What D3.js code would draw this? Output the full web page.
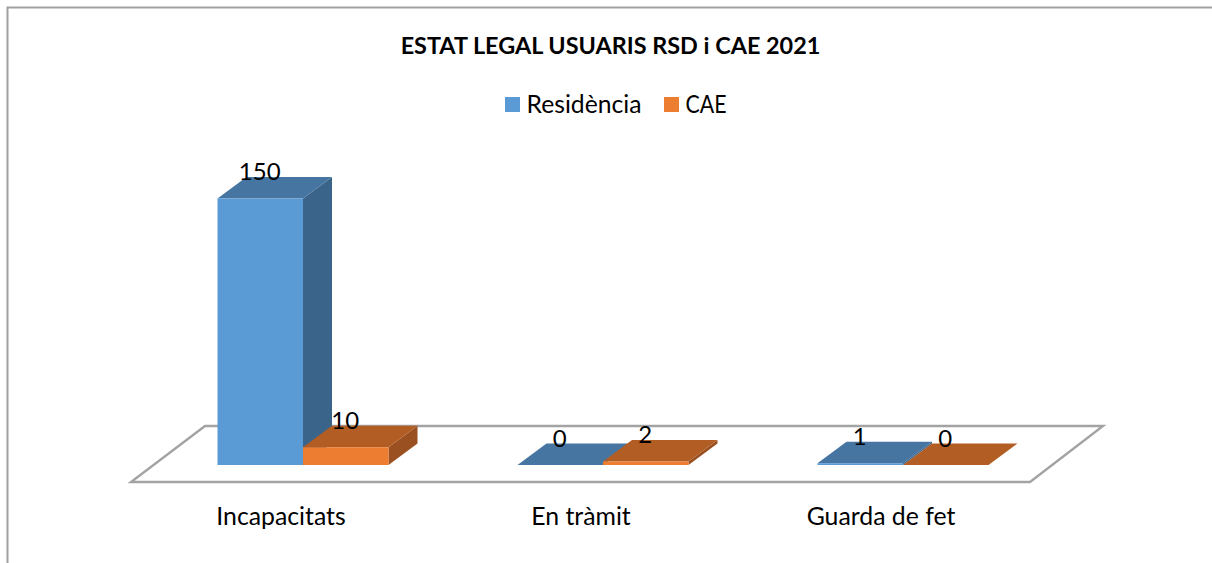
<!DOCTYPE html>
<html><head><meta charset="utf-8">
<script src="https://cdn.jsdelivr.net/npm/d3@7"></script>
<style>html,body{margin:0;padding:0;background:#fff;overflow:hidden}svg{display:block}text{font-family:Lato,"Open Sans",sans-serif;fill:#000}</style>
</head><body><svg id="c" width="1212" height="563"></svg>
<script>
const titleText = "ESTAT LEGAL USUARIS RSD i CAE 2021";
const categories = ["Incapacitats", "En tràmit", "Guarda de fet"];
const seriesNames = ["Residència", "CAE"];
const residencia = [150, 0, 1];
const cae = [10, 2, 0];
const frontColors = ["#5B9BD5", "#ED7D31"];
const topColors = ["#4675A1", "#B25D23"];
const sideColors = ["#3A6489", "#9A5020"];

const svg = d3.select("#c");
const W = 1212, H = 563;
const depthX = 29, depthY = -21.5;

const x0 = d3.scalePoint().domain(categories).range([303, 903]);
const x1 = d3.scaleBand().domain(seriesNames).range([-85.5, 85.5]);
const y = d3.scaleLinear().domain([0, 150]).range([465, 198.5]);

// frame
svg.append("path").attr("d", `M7.5,${H}V7.5H${W}`).attr("fill", "none").attr("stroke", "#a0a0a0").attr("stroke-width", 2);

// floor
const floor = [[131, 482], [1030, 482], [1103, 426], [205, 426]];
svg.append("path").attr("d", d3.line()(floor) + "Z").attr("fill", "#fff").attr("stroke", "#a3a3a3").attr("stroke-width", 2.4);

// bars
const rows = [];
categories.forEach((c, i) => {
  [residencia, cae].forEach((vals, s) => rows.push({c, s, v: vals[i], name: seriesNames[s]}));
});
const poly = pts => d3.line()(pts) + "Z";
const bars = svg.append("g").selectAll("g").data(rows).join("g");
bars.each(function (d) {
  const g = d3.select(this);
  const l = x0(d.c) + x1(d.name), r = l + x1.bandwidth(), t = y(d.v), b = y(0);
  g.append("path").attr("d", poly([[r, b], [r + depthX, b + depthY], [r + depthX, t + depthY], [r, t]])).attr("fill", sideColors[d.s]);
  g.append("path").attr("d", poly([[l, t], [r, t], [r + depthX, t + depthY], [l + depthX, t + depthY]])).attr("fill", topColors[d.s]);
  g.append("rect").attr("x", l).attr("y", t).attr("width", r - l).attr("height", b - t).attr("fill", frontColors[d.s]);
});

// data labels
svg.append("g").selectAll("text").data(rows).join("text")
  .attr("x", d => x0(d.c) + x1(d.name) + x1.bandwidth() / 2 - 0.5)
  .attr("y", d => y(d.v) + depthY + 3)
  .attr("text-anchor", "middle").attr("font-size", 24).text(d => d.v);

// category axis
const axis = d3.axisBottom(x0).tickSize(0).tickPadding(0);
const ax = svg.append("g").attr("transform", "translate(-22.5,507)").call(axis);
ax.select(".domain").remove();
ax.selectAll("text").attr("font-size", 24.8).attr("font-family", 'Lato,"Open Sans",sans-serif').attr("fill", "#000");

// title
svg.append("text").attr("x", 610.5).attr("y", 54).attr("text-anchor", "middle")
  .attr("font-size", 23.4).attr("font-weight", 700).text(titleText);

// legend
const legendX = d3.scaleOrdinal().domain(seriesNames).range([505, 664]);
const legendTextWidths = [115, 41];
const lg = svg.append("g").selectAll("g").data(seriesNames).join("g")
  .attr("transform", d => `translate(${legendX(d)},97)`);
lg.append("rect").attr("width", 15).attr("height", 15).attr("fill", (d, i) => frontColors[i]);
lg.append("text").attr("x", 21.5).attr("y", 16).attr("font-size", 24.5)
  .attr("textLength", (d, i) => legendTextWidths[i]).attr("lengthAdjust", "spacingAndGlyphs").text(d => d);
</script></body></html>
